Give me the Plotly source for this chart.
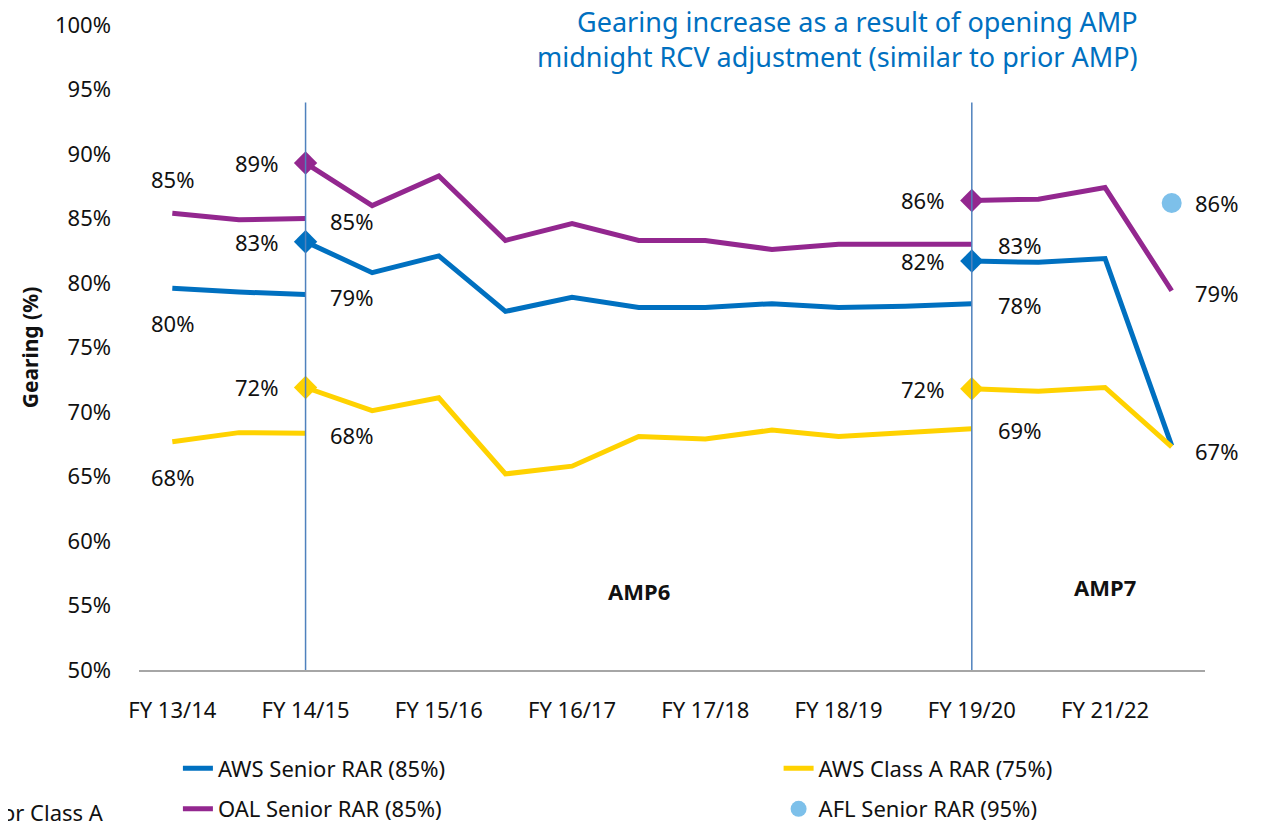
import plotly.graph_objects as go

# x positions are half-year steps, only every other one is labelled
tick_vals = [0, 2, 4, 6, 8, 10, 12, 14]
tick_text = ['FY 13/14', 'FY 14/15', 'FY 15/16', 'FY 16/17', 'FY 17/18', 'FY 18/19', 'FY 19/20', 'FY 21/22']

pre_x = [0, 1, 2]
mid_x = [2, 3, 4, 5, 6, 7, 8, 9, 10, 11, 12]
post_x = [12, 13, 14, 15]
afl_x = [15]

aws_senior_pre = [79.6, 79.3, 79.1]
aws_senior_mid = [83.2, 80.8, 82.1, 77.8, 78.9, 78.1, 78.1, 78.4, 78.1, 78.2, 78.4]
aws_senior_post = [81.7, 81.6, 81.9, 67.4]

aws_a_pre = [67.7, 68.4, 68.35]
aws_a_mid = [71.9, 70.1, 71.1, 65.2, 65.8, 68.1, 67.9, 68.6, 68.1, 68.4, 68.7]
aws_a_post = [71.8, 71.6, 71.9, 67.3]

oal_pre = [85.4, 84.9, 85.0]
oal_mid = [89.3, 86.0, 88.3, 83.3, 84.6, 83.3, 83.3, 82.6, 83.0, 83.0, 83.0]
oal_post = [86.4, 86.5, 87.4, 79.4]

afl_senior = [86.2]

blue = '#0070C0'
purple = '#93278F'
yellow = '#FFD200'
light_blue = '#7DC0EA'
text_col = '#111111'
font_name = 'Noto Sans'

series = [
    ('AWS Senior RAR (85%)', blue, aws_senior_pre, aws_senior_mid, aws_senior_post, 'legend'),
    ('AWS Class A RAR (75%)', yellow, aws_a_pre, aws_a_mid, aws_a_post, 'legend2'),
    ('OAL Senior RAR (85%)', purple, oal_pre, oal_mid, oal_post, 'legend'),
]

fig = go.Figure()

for name, color, pre, mid, post, leg in series:
    fig.add_trace(go.Scatter(x=pre_x, y=pre, mode='lines', line=dict(color=color, width=5),
                             name=name, legendgroup=name, legend=leg, showlegend=True))
    for xs, ys in [(mid_x, mid), (post_x, post)]:
        fig.add_trace(go.Scatter(x=xs, y=ys, mode='lines', line=dict(color=color, width=5),
                                 name=name, legendgroup=name, legend=leg, showlegend=False))
        # diamond at the start of the new period
        fig.add_trace(go.Scatter(x=xs[:1], y=ys[:1], mode='markers',
                                 marker=dict(symbol='diamond', size=18, color=color, opacity=1,
                                             line=dict(width=0)),
                                 name=name, legendgroup=name, legend=leg, showlegend=False))

fig.add_trace(go.Scatter(x=afl_x, y=afl_senior, mode='markers', marker=dict(color=light_blue, size=20),
                         name='AFL Senior RAR (95%)', legendgroup='afl', legend='legend2'))

# data labels
def pct(v):
    return f"{round(v)}%"

labels = []
for name, color, pre, mid, post, leg in series:
    # first point: purple above, others below
    labels.append((pre_x[0], pre[0], 0, 34 if color == purple else -35, 'center'))
    labels.append((pre_x[-1], pre[-1], 22, -2, 'left'))
    labels.append((mid_x[0], mid[0], -26, 0, 'right'))
    labels.append((mid_x[-1], mid[-1], 24, -1, 'left'))
    labels.append((post_x[0], post[0], -26, 0, 'right'))
labels.append((post_x[-1], oal_post[-1], 21, -2, 'left'))
labels.append((post_x[-1], aws_senior_post[-1], 21, -5, 'left'))
labels.append((afl_x[0], afl_senior[0], 21, 0, 'left'))

annotations = []
for x, y, xs, ys, anchor in labels:
    annotations.append(dict(x=x, y=y, text=pct(y), showarrow=False, xshift=xs, yshift=ys,
                            xanchor=anchor, yanchor='middle', font=dict(size=22, color=text_col)))

annotations += [
    dict(x=7, y=56.1, text='<b>AMP6</b>', showarrow=False, font=dict(size=22, color=text_col)),
    dict(x=14, y=56.4, text='<b>AMP7</b>', showarrow=False, font=dict(size=22, color=text_col)),
    dict(xref='paper', yref='paper', x=0.939, y=0.979, xanchor='right', yanchor='middle',
         text='Gearing increase as a result of opening AMP<br>midnight RCV adjustment (similar to prior AMP)',
         showarrow=False, align='right', font=dict(size=27, color=blue)),
    dict(xref='paper', yref='paper', x=-0.1304, y=-0.22, xanchor='left', yanchor='middle',
         text='or Class A', showarrow=False, font=dict(size=22, color=text_col)),
]

shapes = [
    dict(type='line', x0=mid_x[0], x1=mid_x[0], y0=50, y1=94, line=dict(color='#4F81BD', width=1.5)),
    dict(type='line', x0=post_x[0], x1=post_x[0], y0=50, y1=94, line=dict(color='#4F81BD', width=1.5)),
]

# the page adds an 8px body margin, so the plot area is offset by -8px here
fig.update_layout(
    width=1266, height=822,
    margin=dict(l=131, r=69, t=17, b=160, autoexpand=False),
    plot_bgcolor='white', paper_bgcolor='white',
    font=dict(family=font_name, size=22, color=text_col),
    showlegend=True,
    legend=dict(x=0.0365, y=-0.12, xanchor='left', yanchor='top', orientation='v',
                font=dict(size=22), tracegroupgap=9, bgcolor='rgba(0,0,0,0)'),
    legend2=dict(x=0.6, y=-0.12, xanchor='left', yanchor='top', orientation='v',
                 font=dict(size=22), tracegroupgap=9, bgcolor='rgba(0,0,0,0)'),
    xaxis=dict(range=[-0.5, 15.5], tickvals=tick_vals, ticktext=tick_text, showgrid=False,
               zeroline=False, showline=True, linecolor='#A6A6A6', linewidth=2, ticks='',
               ticklabelstandoff=20, tickfont=dict(size=22)),
    yaxis=dict(range=[50, 100], tickvals=[50, 55, 60, 65, 70, 75, 80, 85, 90, 95, 100],
               ticktext=[f"{v}%" for v in [50, 55, 60, 65, 70, 75, 80, 85, 90, 95, 100]],
               showgrid=False, zeroline=False, showline=False, ticks='', ticklabelstandoff=27,
               tickfont=dict(size=22),
               title=dict(text='<b>Gearing (%)</b>', font=dict(size=21), standoff=10)),
    annotations=annotations,
    shapes=shapes,
)

fig.write_html("out.html")
